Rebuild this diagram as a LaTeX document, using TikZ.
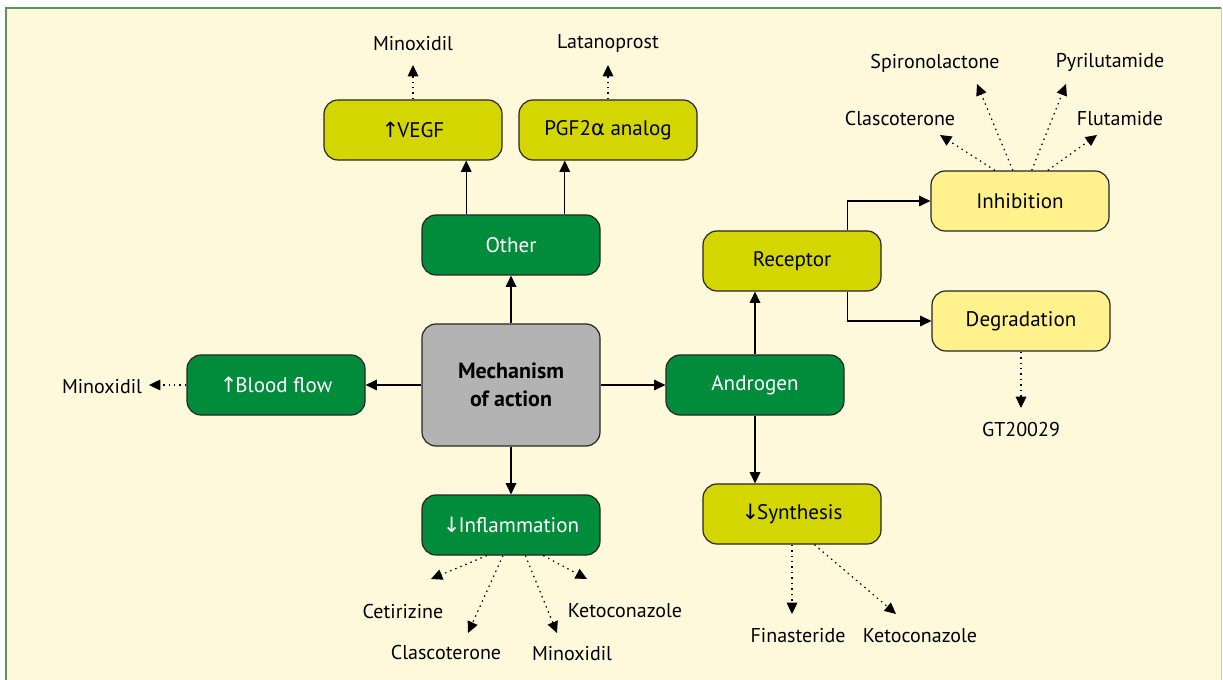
\documentclass[tikz,border=0pt]{standalone}
\usepackage{fontspec}
\setmainfont{PT Sans}
\newfontfamily\symfont{DejaVu Sans}
\usetikzlibrary{arrows.meta,calc}

\definecolor{bgYellow}{RGB}{255,249,220}
\definecolor{frameGreen}{RGB}{94,144,96}
\definecolor{darkGreen}{RGB}{0,140,58}
\definecolor{limeBox}{RGB}{212,214,0}
\definecolor{paleBox}{RGB}{255,242,140}
\definecolor{greyBox}{RGB}{179,179,179}

\tikzset{every picture/.style={line width=0.75pt}}
\tikzset{
  box/.style={draw=black!85, line width=0.9pt, rounded corners=10.5pt, minimum width=133.5pt, minimum height=45pt, inner sep=0.75pt, font=\fontsize{15.8}{19}\selectfont},
  greenbox/.style={box, fill=darkGreen, text=white},
  limebox/.style={box, fill=limeBox},
  palebox/.style={box, fill=paleBox},
  drug/.style={inner sep=0.75pt, font=\fontsize{15}{18}\selectfont},
  arr/.style={line width=0.9pt, -{Triangle[length=8.5pt,width=8pt]}},
  dotarr/.style={arr, dash pattern=on 1.1pt off 3pt},
}
\newcommand{\upar}{{\symfont ↑}\kern-1.5pt}
\newcommand{\downar}{{\symfont ↓}\kern-1.5pt}

\begin{document}
\begin{tikzpicture}[x=0.75pt,y=0.75pt,yscale=-1,xscale=1]
\useasboundingbox (0,0) rectangle (1223,680);

%Background panel
\fill[bgYellow] (6,8) rectangle (1221,680);
\draw[frameGreen, line width=1.1pt] (6,680) -- (6,8) -- (1221,8);
\draw[frameGreen!40, line width=0.75pt] (1221,8) -- (1221,680);

%Boxes
\node[box, fill=greyBox, minimum height=91.5pt, align=center, font=\bfseries\fontsize{16.5}{21}\selectfont] (moa) at (511,385) {Mechanism\\of action};
\node[greenbox] (other) at (511,245) {Other};
\node[greenbox] (infl) at (511,525) {\downar Inflammation};
\node[greenbox] (blood) at (276,385) {\upar Blood flow};
\node[greenbox] (andro) at (755,385) {Androgen};
\node[limebox] (vegf) at (413,130) {\upar VEGF};
\node[limebox] (pgf) at (608,130) {PGF2{\symfont α} analog};
\node[limebox] (rec) at (792,261) {Receptor};
\node[limebox] (synth) at (792,514) {\downar Synthesis};
\node[palebox] (inh) at (1020,201) {Inhibition};
\node[palebox] (degr) at (1021,321) {Degradation};

% Text Node
\node[drug] (minoxA) at (413,44) {Minoxidil};
\node[drug] (latano) at (608,44) {Latanoprost};
\node[drug] (minoxB) at (102,387) {Minoxidil};
\node[drug] (spiro) at (935,63) {Spironolactone};
\node[drug] (pyril) at (1110,62) {Pyrilutamide};
\node[drug] (clascA) at (900,119) {Clascoterone};
\node[drug] (fluta) at (1120,119) {Flutamide};
\node[drug] (gt) at (1021,429) {GT20029};
\node[drug] (finas) at (798,636) {Finasteride};
\node[drug] (ketoA) at (920,636) {Ketoconazole};
\node[drug] (cetir) at (403,611) {Cetirizine};
\node[drug] (clascB) at (446,652) {Clascoterone};
\node[drug] (minoxC) at (572,654) {Minoxidil};
\node[drug] (ketoB) at (625,611) {Ketoconazole};

%Arrow tips of the dotted links
\coordinate (tMinoxA) at (413,65);
\coordinate (tLatano) at (608,65);
\coordinate (tMinoxB) at (149,385);
\coordinate (tClascA) at (940,135);
\coordinate (tSpiro) at (977,84);
\coordinate (tPyril) at (1066,84);
\coordinate (tFluta) at (1097,135);
\coordinate (tGt) at (1021,408);
\coordinate (tFinas) at (792,614);
\coordinate (tKetoA) at (896,614);
\coordinate (tCetir) at (431,579);
\coordinate (tClascB) at (468,633);
\coordinate (tMinoxC) at (557,633);
\coordinate (tKetoB) at (587,579);

%Solid links
\draw[arr] (moa) -- (other);
\draw[arr] (moa) -- (infl);
\draw[arr] (moa) -- (blood);
\draw[arr] (moa) -- (andro);
\draw[arr] ($(other.north west)!0.25!(other.north east)$) coordinate (o1) -- (o1 |- vegf.south);
\draw[arr] ($(other.north west)!0.8!(other.north east)$) coordinate (o2) -- (o2 |- pgf.south);
\draw[arr] (andro.north) -- (andro.north |- rec.south);
\draw[arr] (andro.south) -- (andro.south |- synth.north);
\draw[arr] ($(rec.north west)!0.81!(rec.north east)$) |- (inh);
\draw[arr] ($(rec.south west)!0.81!(rec.south east)$) |- (degr);

%Dotted links
\draw[dotarr] (vegf.north) -- (tMinoxA);
\draw[dotarr] (pgf.north) -- (tLatano);
\draw[dotarr] (blood.west) -- (tMinoxB);
\draw[dotarr] (degr.south) -- (tGt);
\draw[dotarr] ($(inh.north west)!0.36!(inh.north east)$) -- (tClascA);
\draw[dotarr] ($(inh.north west)!0.46!(inh.north east)$) -- (tSpiro);
\draw[dotarr] ($(inh.north west)!0.565!(inh.north east)$) -- (tPyril);
\draw[dotarr] ($(inh.north west)!0.655!(inh.north east)$) -- (tFluta);
\draw[dotarr] (synth.south) -- (tFinas);
\draw[dotarr] ($(synth.south west)!0.625!(synth.south east)$) -- (tKetoA);
\draw[dotarr] ($(infl.south west)!0.365!(infl.south east)$) -- (tCetir);
\draw[dotarr] ($(infl.south west)!0.455!(infl.south east)$) -- (tClascB);
\draw[dotarr] ($(infl.south west)!0.58!(infl.south east)$) -- (tMinoxC);
\draw[dotarr] ($(infl.south west)!0.68!(infl.south east)$) -- (tKetoB);
\end{tikzpicture}
\end{document}
